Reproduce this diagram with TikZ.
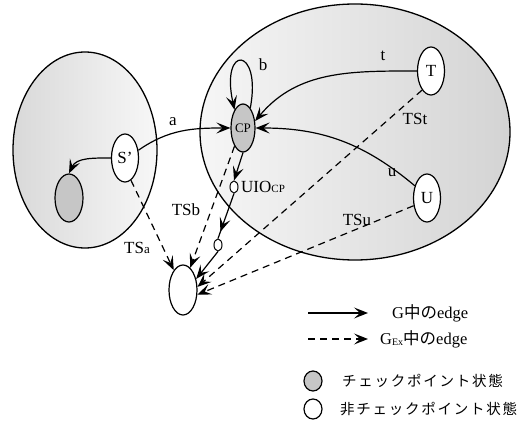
\documentclass[tikz,border=0pt]{standalone}
\usepackage{fontspec}
\setmainfont{Liberation Serif}
\newfontfamily\jpfont[LetterSpace=12]{Noto Sans CJK JP}
\newfontfamily\jpplain{Noto Sans CJK JP}
\usetikzlibrary{arrows.meta,shapes.geometric,decorations.markings}

\begin{document}
\begin{tikzpicture}[x=1pt,y=1pt,
  >={Stealth[length=14pt,width=11pt,inset=6pt]},
  group/.style={draw,line width=1.3pt},
  state/.style={draw,ellipse,line width=1.2pt,fill=white,inner sep=0pt,
    minimum width=27pt,minimum height=48pt,font=\fontsize{17}{17}\selectfont},
  cpstate/.style={state,fill=gray!45},
  tinystate/.style={draw,ellipse,line width=1pt,fill=white,inner sep=0pt,
    minimum width=8pt,minimum height=12pt},
  gedge/.style={->,line width=1.2pt},
  exedge/.style={->,line width=1.2pt,dash pattern=on 7pt off 5pt},
  midarrow/.style={line width=1.2pt,postaction={decorate},
    decoration={markings,mark=at position 0.85 with {\arrow{>}}}},
  lbl/.style={inner sep=1pt,font=\fontsize{17}{17}\selectfont},
  legtext/.style={anchor=west,inner sep=0pt,font=\fontsize{16.5}{18}\selectfont},
  jptext/.style={anchor=west,inner sep=0pt,font=\fontsize{14.5}{16}\jpfont}
]
\useasboundingbox (0,0) rectangle (525,-430);

% the two state groups
\path[group,left color=gray!30,middle color=gray!12,right color=gray!6]
  (85,-150) ellipse [x radius=72pt,y radius=98pt];
\path[group,left color=gray!7,middle color=gray!14,right color=gray!34]
  (355,-132) ellipse [x radius=155pt,y radius=128pt];

% states
\node[state] (S) at (125,-158) {S'};
\node[cpstate,minimum width=28pt,minimum height=48pt] (D) at (69,-198) {};
\node[cpstate,minimum width=24pt] (CP) at (243,-128) {\fontsize{13}{13}\selectfont CP};
\node[state] (T) at (431,-71) {T};
\node[state] (U) at (427,-198) {U};
\node[state,minimum width=28pt,minimum height=50pt] (bot) at (183,-290) {};
\node[tinystate] (s1) at (234,-187) {};
\node[tinystate] (s2) at (218,-245) {};

% edges of G
\draw[gedge] (S.west) to[out=180,in=65] (D.north);
\draw[gedge] (S.30) to[out=35,in=180] (CP.west);
\draw[gedge] (CP.70) .. controls (262,-46) and (220,-44) .. (CP.115);
\draw[gedge] (T.west) to[out=180,in=50] (CP.30);
\draw[gedge] (U.135) to[out=140,in=0] (CP.east);
\draw[gedge] (CP.south) -- (s1.north);
\draw[midarrow] (s1.south) -- (s2.north);
\draw[gedge] (s2.south) -- (bot.40);

% edges of the extended graph
\draw[exedge] (S.-75) -- (bot.115);
\draw[exedge] (CP.-115) -- (bot.72);
\draw[exedge] (T.-115) -- (bot.12);
\draw[exedge] (U.-150) -- (bot.-18);

% edge labels
\node[lbl] (la) at (173,-122) {a};
\node[lbl] (lb) at (263,-65) {b};
\node[lbl] (lt) at (383,-56) {t};
\node[lbl] (lu) at (392,-173) {u};
\node[lbl] (ltst) at (415,-119) {TSt};
\node[lbl] (ltsu) at (357,-220) {TSu};
\node[lbl] (ltsb) at (186,-210) {TSb};
\node[lbl] (ltsa) at (137,-248) {TS{\fontsize{13}{13}\selectfont a}};
\node[lbl,anchor=west] (luio) at (240,-187) {UIO{\fontsize{11}{11}\selectfont CP}};

% legend
\coordinate (k1a) at (308,-313);
\coordinate (k1b) at (368,-313);
\coordinate (k2a) at (308,-339);
\coordinate (k2b) at (368,-339);
\draw[gedge] (k1a) -- (k1b);
\draw[exedge] (k2a) -- (k2b);
\node[legtext] (t1) at (392,-313) {G{\jpplain 中の}edge};
\node[legtext] (t2) at (380,-339) {G\raisebox{-0.2ex}{\fontsize{10}{10}\selectfont Ex}{\jpplain 中の}edge};
\node[cpstate,minimum width=18pt,minimum height=20pt] (k3) at (313,-381) {};
\node[state,minimum width=18pt,minimum height=20pt] (k4) at (313,-409) {};
\node[jptext] (t3) at (342,-381) {チェックポイント状態};
\node[jptext] (t4) at (340,-409) {非チェックポイント状態};
\end{tikzpicture}
\end{document}
